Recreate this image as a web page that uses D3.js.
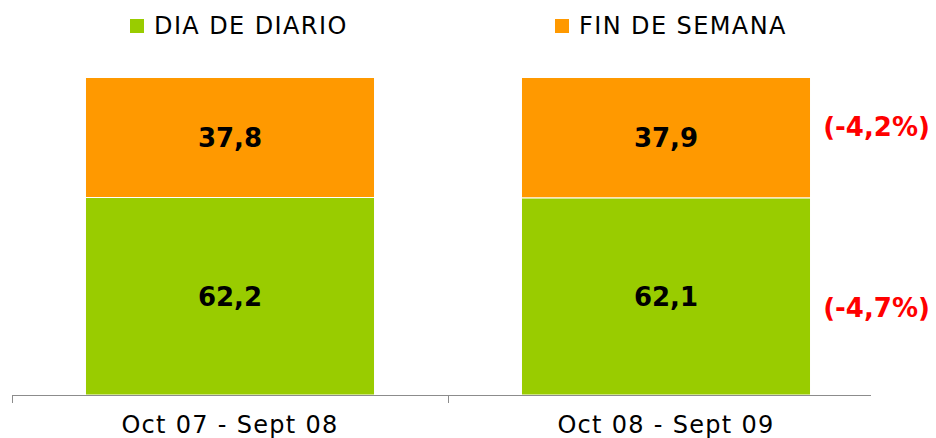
<!DOCTYPE html>
<html>
<head>
<meta charset="utf-8">
<script src="https://cdn.jsdelivr.net/npm/d3@7"></script>
<style>
  body { margin: 0; background: #fff; }
  svg { display: block; font-family: "DejaVu Sans", Verdana, sans-serif; }
</style>
</head>
<body>
<div id="chart"></div>
<script>
var periods = ["Oct 07 - Sept 08", "Oct 08 - Sept 09"];
var seriesNames = ["DIA DE DIARIO", "FIN DE SEMANA"];
var diario = [62.2, 62.1];
var finde = [37.8, 37.9];
var variations = ["(-4,7%)", "(-4,2%)"]; // diario, fin de semana (ultimo periodo)

var colors = ["#99CC00", "#FF9900"];

var width = 936;
var height = 438;

var svg = d3.select("#chart")
  .append("svg")
  .attr("width", width)
  .attr("height", height);

var x = d3.scaleBand()
  .domain(periods)
  .range([12, 884])
  .paddingInner(0.337)
  .paddingOuter(0.1685);

var y = d3.scaleLinear()
  .domain([0, 100])
  .range([395, 77.5]);

var rows = periods.map(function (p, i) {
  return { period: p, diario: diario[i], finde: finde[i] };
});
var stacked = d3.stack().keys(["diario", "finde"])(rows);

var fmt = function (v) { return v.toFixed(1).replace(".", ","); };

/* bars */
var layers = svg.selectAll("g.layer")
  .data(stacked)
  .enter()
  .append("g")
  .attr("class", "layer")
  .attr("fill", (d, i) => colors[i]);

layers.selectAll("rect")
  .data(d => d)
  .enter()
  .append("rect")
  .attr("x", d => x(d.data.period))
  .attr("y", d => y(d[1]))
  .attr("width", x.bandwidth())
  .attr("height", d => y(d[0]) - y(d[1]))
  .attr("stroke", "#fff")
  .attr("stroke-width", 1);

layers.selectAll("text")
  .data(d => d)
  .enter()
  .append("text")
  .attr("x", d => x(d.data.period) + x.bandwidth() / 2)
  .attr("y", d => (y(d[0]) + y(d[1])) / 2)
  .attr("dy", "0.36em")
  .attr("text-anchor", "middle")
  .attr("font-size", "26px")
  .attr("font-weight", "bold")
  .attr("fill", "#000")
  .text(d => fmt(d[1] - d[0]));

/* variation notes next to the last bar */
var last = periods[periods.length - 1];
var noteX = x(last) + x.bandwidth() + 66;
svg.append("text")
  .attr("x", noteX)
  .attr("y", y(100 - finde[1] / 2) - 11)
  .attr("dy", "0.36em")
  .attr("text-anchor", "middle")
  .attr("font-size", "26px")
  .attr("font-weight", "bold")
  .attr("fill", "#FF0000")
  .text(variations[1]);
svg.append("text")
  .attr("x", noteX)
  .attr("y", y(diario[1] / 2) + 11)
  .attr("dy", "0.36em")
  .attr("text-anchor", "middle")
  .attr("font-size", "26px")
  .attr("font-weight", "bold")
  .attr("fill", "#FF0000")
  .text(variations[0]);

/* axis */
var axis = svg.append("g").attr("class", "axis");
axis.append("line")
  .attr("x1", 12).attr("x2", 871)
  .attr("y1", y(0) + 0.5).attr("y2", y(0) + 0.5)
  .attr("stroke", "#8c8c8c");
axis.selectAll("line.tick")
  .data(periods)
  .enter()
  .append("line")
  .attr("class", "tick")
  .attr("x1", d => x(d) - x.step() * x.paddingOuter() + 0.5)
  .attr("x2", d => x(d) - x.step() * x.paddingOuter() + 0.5)
  .attr("y1", y(0))
  .attr("y2", y(0) + 8)
  .attr("stroke", "#8c8c8c");
axis.selectAll("text")
  .data(periods)
  .enter()
  .append("text")
  .attr("x", d => x(d) + x.bandwidth() / 2)
  .attr("y", 433)
  .attr("text-anchor", "middle")
  .attr("font-size", "24px")
  .attr("letter-spacing", "1.3px")
  .attr("fill", "#000")
  .text(d => d);

/* legend */
var legendX = [130, 555];
var legend = svg.append("g").attr("id", "legend")
  .selectAll("g")
  .data(seriesNames)
  .enter()
  .append("g")
  .attr("transform", (d, i) => "translate(" + legendX[i] + ",0)");
legend.append("rect")
  .attr("x", 0)
  .attr("y", 19)
  .attr("width", 14)
  .attr("height", 14)
  .attr("fill", (d, i) => colors[i]);
legend.append("text")
  .attr("x", 24)
  .attr("y", 34)
  .attr("font-size", "24px")
  .attr("letter-spacing", "1.4px")
  .attr("fill", "#000")
  .text(d => d);
</script>
</body>
</html>
